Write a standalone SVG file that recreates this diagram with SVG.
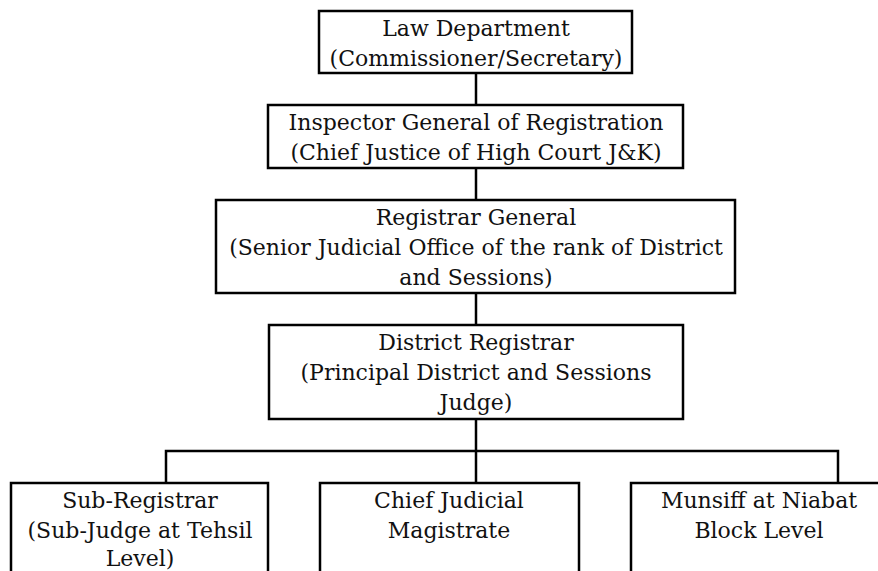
<svg xmlns="http://www.w3.org/2000/svg" width="878" height="571" viewBox="0 0 878 571">
<style>
.box{fill:#fff;stroke:#000;stroke-width:2.5}
.t{font-family:"DejaVu Serif",serif;font-size:22px;fill:#111;text-anchor:middle}
.c{stroke:#000;stroke-width:2.5;fill:none}
</style>
<rect x="0" y="0" width="878" height="571" fill="#fff"/>
<g id="connectors">
<line class="c" x1="476" y1="73" x2="476" y2="105"/>
<line class="c" x1="476" y1="168" x2="476" y2="200"/>
<line class="c" x1="476" y1="293" x2="476" y2="325"/>
<line class="c" x1="476" y1="419" x2="476" y2="483"/>
<polyline class="c" points="166,483 166,451 838,451 838,483"/>
</g>
<g id="law">
<rect class="box" x="319" y="11" width="313" height="62"/>
<text class="t" x="476" y="36">Law Department</text>
<text class="t" x="476" y="66">(Commissioner/Secretary)</text>
</g>
<g id="igr">
<rect class="box" x="268" y="105" width="415" height="63"/>
<text class="t" x="476" y="130">Inspector General of Registration</text>
<text class="t" x="476" y="160">(Chief Justice of High Court J&amp;K)</text>
</g>
<g id="rg">
<rect class="box" x="216" y="200" width="519" height="93"/>
<text class="t" x="476" y="225">Registrar General</text>
<text class="t" x="476" y="255">(Senior Judicial Office of the rank of District</text>
<text class="t" x="476" y="285">and Sessions)</text>
</g>
<g id="dr">
<rect class="box" x="269" y="325" width="414" height="94"/>
<text class="t" x="476" y="350">District Registrar</text>
<text class="t" x="476" y="380">(Principal District and Sessions</text>
<text class="t" x="476" y="410">Judge)</text>
</g>
<g id="sr">
<rect class="box" x="11" y="483" width="257" height="120"/>
<text class="t" x="140" y="508">Sub-Registrar</text>
<text class="t" x="140" y="538">(Sub-Judge at Tehsil</text>
<text class="t" x="140" y="566">Level)</text>
</g>
<g id="cjm">
<rect class="box" x="320" y="483" width="259" height="120"/>
<text class="t" x="449" y="508">Chief Judicial</text>
<text class="t" x="449" y="538">Magistrate</text>
</g>
<g id="munsiff">
<rect class="box" x="631" y="483" width="257" height="120"/>
<text class="t" x="759" y="508">Munsiff at Niabat</text>
<text class="t" x="759" y="538">Block Level</text>
</g>
</svg>
